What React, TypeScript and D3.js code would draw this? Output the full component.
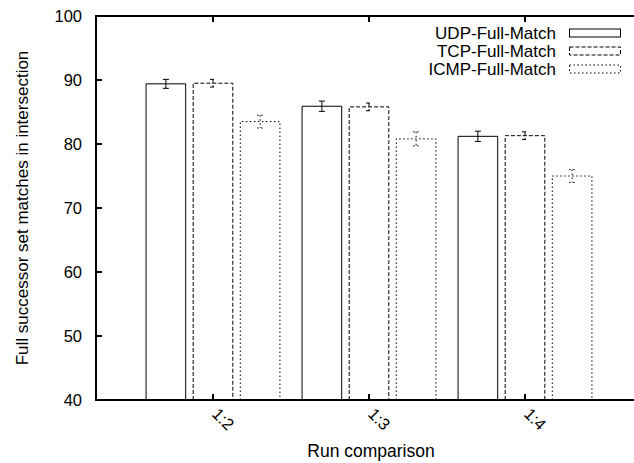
import React from "react";
import * as d3 from "d3";

// Run comparisons on the x axis
const categories = ["1:2", "1:3", "1:4"];
// Series names, shown in the key
const seriesNames = ["UDP-Full-Match", "TCP-Full-Match", "ICMP-Full-Match"];
// Mean percentage of full successor set matches per series
const udpValues = [89.4, 85.9, 81.2];
const tcpValues = [89.5, 85.8, 81.3];
const icmpValues = [83.5, 80.8, 75.0];
// Error bar half-widths per series
const udpErrors = [0.7, 0.8, 0.8];
const tcpErrors = [0.6, 0.6, 0.6];
const icmpErrors = [1.0, 1.1, 1.0];
// Y axis tick values
const yTicks = [40, 50, 60, 70, 80, 90, 100];

const seriesValues = [udpValues, tcpValues, icmpValues];
const seriesErrors = [udpErrors, tcpErrors, icmpErrors];
const dashes = [undefined, "4,2", "1.5,2.5"];

const W = 634;
const H = 463;
const left = 96;
const top = 16;
const bottom = 400;
const right = 642;
const font = "'Liberation Sans', Arial, Helvetica, sans-serif";

export default function App() {
  const x = d3.scaleLinear().domain([-0.75, 2.75]).range([left, right]);
  const y = d3.scaleLinear().domain([40, 100]).range([bottom, top]);
  const offset = 0.302;
  const bw = 0.254;

  return (
    <svg
      width={W}
      height={H}
      style={{ position: "absolute", left: 0, top: 0, background: "#fff" }}
      fontFamily={font}
    >
      {/* bars with error bars */}
      {seriesValues.map((vals, s) =>
        vals.map((v, i) => {
          const cx = x(i + (s - 1) * offset);
          const x0 = x(i + (s - 1) * offset - bw / 2);
          const x1 = x(i + (s - 1) * offset + bw / 2);
          const e = seriesErrors[s][i];
          const ya = y(v + e);
          const yb = y(v - e);
          return (
            <g key={`${s}-${i}`} stroke="#000" strokeWidth={1} fill="none" strokeDasharray={dashes[s]}>
              <path d={`M${x0},${bottom}V${y(v)}H${x1}V${bottom}`} />
              <line x1={cx} x2={cx} y1={ya} y2={yb} />
              <line x1={cx - 3} x2={cx + 3} y1={ya} y2={ya} />
              <line x1={cx - 3} x2={cx + 3} y1={yb} y2={yb} />
            </g>
          );
        })
      )}

      {/* frame */}
      <g stroke="#000" strokeWidth={2} fill="none">
        <line x1={left} x2={W} y1={top} y2={top} />
        <line x1={left} x2={W} y1={bottom} y2={bottom} />
        <line x1={left} x2={left} y1={top - 1} y2={bottom + 1} />
      </g>

      {/* y ticks */}
      {yTicks.map((t) => (
        <g key={t}>
          {t > 40 && t < 100 && (
            <line x1={left} x2={left + 6} y1={y(t)} y2={y(t)} stroke="#000" strokeWidth={2} />
          )}
          <text x={left - 14} y={y(t)} dy="0.36em" textAnchor="end" fontSize={16.5} fill="#000">
            {t}
          </text>
        </g>
      ))}

      {/* x ticks */}
      {categories.map((c, i) => (
        <g key={c}>
          <line x1={x(i)} x2={x(i)} y1={bottom} y2={bottom - 6} stroke="#000" strokeWidth={2} />
          <line x1={x(i)} x2={x(i)} y1={top} y2={top + 6} stroke="#000" strokeWidth={2} />
          <text
            transform={`translate(${x(i) - 2},${bottom + 15}) rotate(45)`}
            fontSize={16.5}
            fill="#000"
          >
            {c}
          </text>
        </g>
      ))}

      {/* axis labels */}
      <text x={371} y={457} textAnchor="middle" fontSize={17.5} fill="#000">
        Run comparison
      </text>
      <text
        transform={`translate(28,${(top + bottom) / 2}) rotate(-90)`}
        textAnchor="middle"
        fontSize={17}
        fill="#000"
      >
        Full successor set matches in intersection
      </text>

      {/* key */}
      {seriesNames.map((n, s) => {
        const cy = 33 + s * 18;
        return (
          <g key={n}>
            <text x={556} y={cy} dy="0.36em" textAnchor="end" fontSize={17} fill="#000">
              {n}
            </text>
            <rect
              x={569.5}
              y={cy - 4}
              width={51}
              height={8}
              fill="none"
              stroke="#000"
              strokeWidth={1}
              strokeDasharray={dashes[s]}
            />
          </g>
        );
      })}
    </svg>
  );
}
